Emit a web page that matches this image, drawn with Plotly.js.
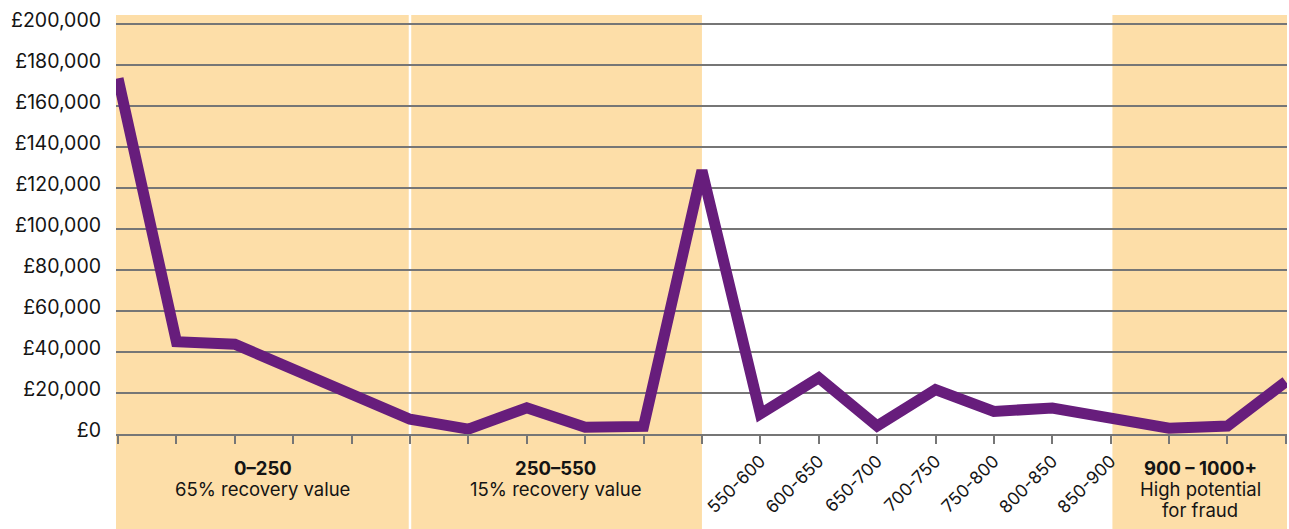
<!DOCTYPE html>
<html>
<head>
<meta charset="utf-8">
<script src="https://cdn.plot.ly/plotly-3.0.1.min.js"></script>
<style>
  html, body { margin: 0; padding: 0; background: #ffffff; }
  #chart { width: 1289px; height: 529px; }
</style>
</head>
<body>
<div id="chart"></div>
<script>
// ---- data ----
const pointIndex = [0, 1, 2, 3, 4, 5, 6, 7, 8, 9, 10, 11, 12, 13, 14, 15, 16, 17, 18, 19, 20];
const lossValues = [173500, 45000, 43800, 31500, 19000, 7200, 2400, 12800, 3300, 3700, 128500,
                    9800, 27400, 3900, 21700, 11000, 12700, 8000, 2800, 3900, 25500];
const xTickLabels = ['', '', '', '', '', '', '', '', '', '', '',
                     '550-600', '600-650', '650-700', '700-750', '750-800', '800-850', '850-900',
                     '', '', ''];
const yTickValues = [0, 20000, 40000, 60000, 80000, 100000, 120000, 140000, 160000, 180000, 200000];
const yTickLabels = ['£0', '£20,000', '£40,000', '£60,000', '£80,000', '£100,000',
                     '£120,000', '£140,000', '£160,000', '£180,000', '£200,000'];
const bandStart = [-0.04, 5, 17.03];
const bandEnd = [5, 10, 20.03];
const bandTitles = ['0–250', '250–550', '900 – 1000+'];
const bandLine1 = ['65% recovery value', '15% recovery value', 'High potential'];
const bandLine2 = ['', '', 'for fraud'];

// ---- styles ----
const FONT = 'Inter, "Open Sans", sans-serif';
const TEXT = '#141414';
const GRID = '#767676';
const BAND = '#FDDEA8';
const LINE = '#671d7c';

const shapes = [];
for (let i = 0; i < bandStart.length; i++) {
  shapes.push({
    type: 'rect', layer: 'below', xref: 'x', yref: 'paper',
    x0: bandStart[i], x1: bandEnd[i], y0: -0.23, y1: 1,
    fillcolor: BAND, line: { width: 0 }
  });
}
// thin white divider between the first two bands
shapes.push({
  type: 'line', layer: 'below', xref: 'x', yref: 'paper',
  x0: bandEnd[0], x1: bandEnd[0], y0: -0.23, y1: 1,
  line: { color: '#ffffff', width: 2.5 }
});

const annotations = [];
const lineRows = [
  { texts: bandTitles, y: -0.0811, bold: true },
  { texts: bandLine1, y: -0.1313, bold: false },
  { texts: bandLine2, y: -0.1814, bold: false }
];
lineRows.forEach(row => {
  for (let i = 0; i < row.texts.length; i++) {
    if (!row.texts[i]) continue;
    annotations.push({
      xref: 'x', yref: 'paper',
      x: (bandStart[i] + bandEnd[i]) / 2, y: row.y,
      xanchor: 'center', yanchor: 'middle', showarrow: false, align: 'center',
      text: row.bold ? '<b>' + row.texts[i] + '</b>' : row.texts[i],
      font: { family: FONT, size: 18.5, color: TEXT }
    });
  }
});

const trace = {
  type: 'scatter', mode: 'lines',
  x: pointIndex, y: lossValues,
  line: { color: LINE, width: 11, shape: 'linear' },
  hoverinfo: 'skip', cliponaxis: false
};

const layout = {
  width: 1289, height: 529,
  margin: { l: 116, r: 2, t: 15, b: 95, pad: 0 },
  paper_bgcolor: '#ffffff', plot_bgcolor: 'rgba(0,0,0,0)',
  showlegend: false,
  font: { family: FONT, color: TEXT },
  xaxis: {
    range: [-0.035, 20.02],
    tickmode: 'array', tickvals: pointIndex, ticktext: xTickLabels,
    tickangle: -45,
    ticks: 'outside', ticklen: 8, tickwidth: 2, tickcolor: GRID,
    showline: true, linecolor: GRID, linewidth: 2,
    showgrid: false, zeroline: false,
    tickfont: { family: FONT, size: 17.5, color: TEXT },
    fixedrange: true
  },
  yaxis: {
    range: [0, 204400],
    tickmode: 'array', tickvals: yTickValues, ticktext: yTickLabels,
    showgrid: true, gridcolor: GRID, gridwidth: 2,
    zeroline: false, showline: false, ticks: '',
    ticklabelstandoff: 14, ticklabelshift: -4,
    tickfont: { family: FONT, size: 19.5, color: TEXT },
    fixedrange: true
  },
  shapes: shapes,
  annotations: annotations
};

Plotly.newPlot('chart', [trace], layout, { displayModeBar: false, staticPlot: true });
</script>
</body>
</html>
